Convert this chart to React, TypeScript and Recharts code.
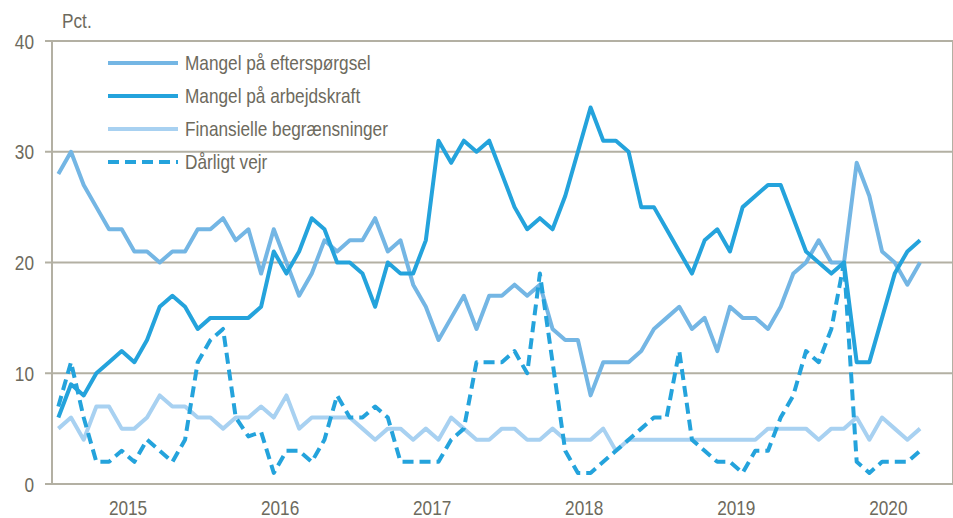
import React from "react";
import { LineChart, Line, XAxis, YAxis, CartesianGrid } from "recharts";

// Månedlige tal, jan. 2015 - sep. 2020 (pct.)
const efterspoergsel = [
  28, 30, 27, 25, 23, 23, 21, 21, 20, 21, 21, 23,
  23, 24, 22, 23, 19, 23, 20, 17, 19, 22, 21, 22,
  22, 24, 21, 22, 18, 16, 13, 15, 17, 14, 17, 17,
  18, 17, 18, 14, 13, 13, 8, 11, 11, 11, 12, 14,
  15, 16, 14, 15, 12, 16, 15, 15, 14, 16, 19, 20,
  22, 20, 20, 29, 26, 21, 20, 18, 20,
];
const arbejdskraft = [
  6, 9, 8, 10, 11, 12, 11, 13, 16, 17, 16, 14,
  15, 15, 15, 15, 16, 21, 19, 21, 24, 23, 20, 20,
  19, 16, 20, 19, 19, 22, 31, 29, 31, 30, 31, 28,
  25, 23, 24, 23, 26, 30, 34, 31, 31, 30, 25, 25,
  23, 21, 19, 22, 23, 21, 25, 26, 27, 27, 24, 21,
  20, 19, 20, 11, 11, 15, 19, 21, 22,
];
const finansielle = [
  5, 6, 4, 7, 7, 5, 5, 6, 8, 7, 7, 6,
  6, 5, 6, 6, 7, 6, 8, 5, 6, 6, 6, 6,
  5, 4, 5, 5, 4, 5, 4, 6, 5, 4, 4, 5,
  5, 4, 4, 5, 4, 4, 4, 5, 3, 4, 4, 4,
  4, 4, 4, 4, 4, 4, 4, 4, 5, 5, 5, 5,
  4, 5, 5, 6, 4, 6, 5, 4, 5,
];
const vejr = [
  7, 11, 6, 2, 2, 3, 2, 4, 3, 2, 4, 11,
  13, 14, 6, 4.3, 4.7, 1, 3, 3, 2, 4, 8, 6,
  6, 7, 6, 2, 2, 2, 2, 4, 5, 11, 11, 11,
  12, 10, 19, 11, 3, 1, 1, 2, 3, 4, 5, 6,
  6, 12, 4, 3, 2, 2, 1, 3, 3, 6, 8, 12,
  11, 14, 20, 2, 1, 2, 2, 2, 3,
];

const years = ["2015", "2016", "2017", "2018", "2019", "2020"];
const yTicks = [0, 10, 20, 30, 40];

const series = [
  { key: "efterspoergsel", name: "Mangel på efterspørgsel", color: "#74b6e4", dash: undefined },
  { key: "arbejdskraft", name: "Mangel på arbejdskraft", color: "#24a3dc", dash: undefined },
  { key: "finansielle", name: "Finansielle begrænsninger", color: "#a8d1f1", dash: undefined },
  { key: "vejr", name: "Dårligt vejr", color: "#24a3dc", dash: "11 6" },
];

const data = efterspoergsel.map((v, i) => ({
  t: i + 0.5,
  efterspoergsel: v,
  arbejdskraft: arbejdskraft[i],
  finansielle: finansielle[i],
  vejr: vejr[i],
}));

const yearStarts = years.map((_, i) => i * 12);
const yearMids = years.map((_, i) => i * 12 + 6);

// Arial Narrow findes ikke - Liberation Sans presses vandret
const FONT = "'Liberation Sans', Arial, sans-serif";
const NARROW = 0.82;
const FS = 21;
const TEXT = "#6d6a5d";
const GRID = "#b3b0a3";

function YearTick({ x, y, payload }: any) {
  return (
    <g transform={`translate(${x},${y + 30}) scale(${NARROW},1)`}>
      <text x={0} y={0} textAnchor="middle" fill={TEXT} fontSize={FS} fontFamily={FONT}>
        {years[(payload.value - 6) / 12]}
      </text>
    </g>
  );
}

function ValueTick({ x, y, payload }: any) {
  return (
    <g transform={`translate(${x},${y}) scale(${NARROW},1)`}>
      <text x={0} y={0} dy="0.36em" textAnchor="end" fill={TEXT} fontSize={FS} fontFamily={FONT}>
        {payload.value}
      </text>
    </g>
  );
}

const narrowText: React.CSSProperties = {
  fontSize: FS,
  color: TEXT,
  whiteSpace: "nowrap",
  display: "inline-block",
  transform: `scaleX(${NARROW})`,
  transformOrigin: "left center",
};

export default function App() {
  return (
    <div style={{ position: "absolute", left: 0, top: 0, width: 953, height: 518, fontFamily: FONT }}>
      <LineChart width={953} height={518} data={data} margin={{ top: 41, right: 0, bottom: 0, left: 0 }}>
        <CartesianGrid xAxisId="grid" stroke={GRID} strokeWidth={2} />
        <XAxis
          xAxisId="grid"
          dataKey="t"
          type="number"
          domain={[0, 71.1]}
          ticks={yearStarts}
          tick={false}
          tickSize={8}
          height={1}
          axisLine={{ stroke: GRID, strokeWidth: 2 }}
          tickLine={{ stroke: GRID, strokeWidth: 2 }}
        />
        <XAxis
          xAxisId="lab"
          dataKey="t"
          type="number"
          domain={[0, 71.1]}
          ticks={yearMids}
          axisLine={false}
          tickLine={false}
          tickSize={0}
          tickMargin={0}
          height={33}
          tick={<YearTick />}
        />
        <YAxis
          domain={[0, 40]}
          ticks={yTicks}
          width={52}
          tickSize={7}
          tickMargin={11}
          axisLine={{ stroke: GRID, strokeWidth: 2 }}
          tickLine={{ stroke: GRID, strokeWidth: 2 }}
          tick={<ValueTick />}
        />
        {series.map((s) => (
          <Line
            key={s.key}
            xAxisId="grid"
            dataKey={s.key}
            name={s.name}
            stroke={s.color}
            strokeWidth={4}
            strokeDasharray={s.dash}
            strokeLinejoin="round"
            dot={false}
            activeDot={false}
            isAnimationActive={false}
          />
        ))}
      </LineChart>
      <div style={{ position: "absolute", left: 62, top: 9 }}>
        <span style={narrowText}>Pct.</span>
      </div>
      <div style={{ position: "absolute", left: 108, top: 46 }}>
        {series.map((s) => (
          <div key={s.key} style={{ display: "flex", alignItems: "center", height: 33 }}>
            <svg width={70} height={8} style={{ marginRight: 7, flex: "none" }}>
              <line x1={0} y1={4} x2={70} y2={4} stroke={s.color} strokeWidth={4} strokeDasharray={s.dash} strokeLinecap={s.dash ? "butt" : "round"} />
            </svg>
            <span style={narrowText}>{s.name}</span>
          </div>
        ))}
      </div>
    </div>
  );
}
